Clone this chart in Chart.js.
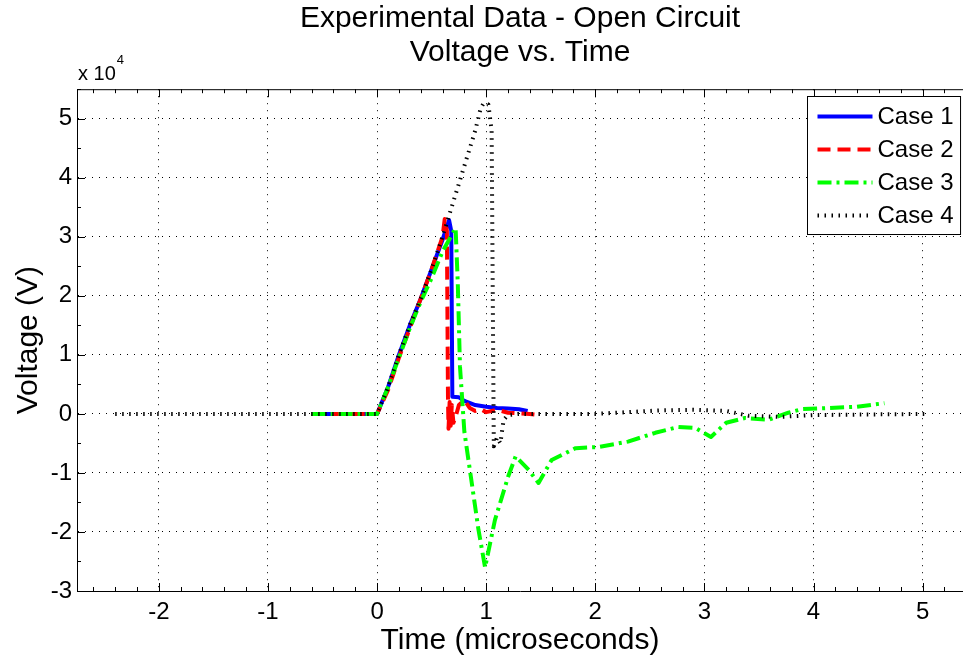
<!DOCTYPE html>
<html>
<head>
<meta charset="utf-8">
<script src="https://cdn.jsdelivr.net/npm/chart.js@4.4.1/dist/chart.umd.min.js"></script>
<style>
  html, body { margin: 0; padding: 0; background: #fff; }
  #wrap { width: 963px; height: 663px; position: relative; }
</style>
</head>
<body>
<div id="wrap"><canvas id="chart"></canvas></div>
<script>
// data (time in microseconds, voltage in volts)
const titleLines = ["Experimental Data - Open Circuit", "Voltage vs. Time"];
const caseNames = ["Case 1", "Case 2", "Case 3", "Case 4"];
const timeTicks = [-2, -1, 0, 1, 2, 3, 4, 5];
const voltTicks = [-30000, -20000, -10000, 0, 10000, 20000, 30000, 40000, 50000];

const case1Time = [-0.6, 0, 0.1, 0.2, 0.3, 0.4, 0.5, 0.6, 0.66, 0.68, 0.69, 0.75, 0.8, 0.9, 1.0, 1.1, 1.2, 1.3, 1.38];
const case1Volt = [0, 0, 4500, 10000, 15000, 19500, 24500, 29500, 32800, 31000, 2900, 2800, 2200, 1500, 1200, 1000, 900, 800, 500];

const case2Time = [-0.6, 0, 0.1, 0.2, 0.3, 0.4, 0.5, 0.6, 0.62, 0.64, 0.65, 0.655, 0.665, 0.675, 0.685, 0.7, 0.72, 0.75, 0.8, 0.85, 0.9, 0.95, 1.0, 1.1, 1.2, 1.3, 1.4, 1.5];
const case2Volt = [0, 0, 4000, 9500, 14500, 19500, 24500, 30000, 33000, 31000, 2500, -2500, 2000, -2000, 1500, -1500, -500, 1500, 2300, 1000, 500, 800, 300, 700, 200, 100, 0, -200];

const case3Time = [-0.6, 0, 0.1, 0.2, 0.3, 0.4, 0.5, 0.6, 0.66, 0.72, 0.74, 0.76, 0.8, 0.86, 0.93, 0.99, 1.08, 1.2, 1.27, 1.39, 1.48, 1.6, 1.82, 2.03, 2.3, 2.55, 2.76, 2.92, 3.06, 3.2, 3.37, 3.59, 3.77, 3.89, 4.14, 4.39, 4.6, 4.65];
const case3Volt = [0, 0, 4500, 9500, 14500, 19000, 23000, 27500, 29500, 31500, 22000, 8000, -3000, -10700, -19700, -26000, -18000, -10700, -7200, -9500, -11700, -7800, -5800, -5600, -4700, -3200, -2200, -2400, -3900, -1500, -700, -1000, 200, 800, 1000, 1200, 1700, 1800];

const case4Time = [-2.4, 0, 0.1, 0.2, 0.3, 0.4, 0.5, 0.6, 0.7, 0.8, 0.9, 0.95, 0.98, 1.02, 1.05, 1.07, 1.1, 1.13, 1.16, 1.2, 1.3, 1.5, 2.0, 2.3, 2.6, 2.9, 3.2, 3.4, 3.7, 4.0, 4.5, 5.05];
const case4Volt = [0, 0, 4500, 10000, 15000, 19500, 24500, 30000, 36000, 42000, 48000, 51800, 52700, 52400, 48000, -5500, -4000, -5000, -1000, -200, 0, 0, 0, 300, 600, 700, 500, -300, -500, -200, -100, 0];

const FONT = '"Liberation Sans", Arial, Helvetica, sans-serif';

function toPoints(t, v) {
  return t.map((x, i) => ({ x: x, y: v[i] }));
}

// MATLAB-like extras: box top edge, inward ticks, "x 10^4", legend inside the axes
const matlabAxes = {
  id: "matlabAxes",
  afterDraw(chart) {
    const ctx = chart.ctx;
    const a = chart.chartArea;
    const xs = chart.scales.x;
    const ys = chart.scales.y;
    ctx.save();
    ctx.strokeStyle = "#000";
    ctx.lineWidth = 1;

    // top edge of the box
    ctx.beginPath();
    ctx.moveTo(a.left, a.top + 0.5);
    ctx.lineTo(a.right, a.top + 0.5);
    ctx.stroke();

    // x ticks (major 1, minor 0.2), bottom and top
    ctx.beginPath();
    for (let k = Math.ceil(xs.min / 0.2); k * 0.2 <= xs.max; k++) {
      const len = (k % 5 === 0) ? 8 : 4;
      const px = Math.round(xs.getPixelForValue(k * 0.2)) + 0.5;
      ctx.moveTo(px, a.bottom);
      ctx.lineTo(px, a.bottom - len);
      ctx.moveTo(px, a.top);
      ctx.lineTo(px, a.top + len);
    }
    // y ticks (major 10000, minor 5000), left side
    for (let k = Math.ceil(ys.min / 5000); k * 5000 <= ys.max; k++) {
      const len = (k % 2 === 0) ? 8 : 4;
      const py = Math.round(ys.getPixelForValue(k * 5000)) + 0.5;
      ctx.moveTo(a.left, py);
      ctx.lineTo(a.left + len, py);
    }
    ctx.stroke();

    // exponent label
    ctx.fillStyle = "#000";
    ctx.textBaseline = "alphabetic";
    ctx.textAlign = "left";
    ctx.font = "20px " + FONT;
    ctx.fillText("x 10", a.left + 1, a.top - 9);
    const w = ctx.measureText("x 10").width;
    ctx.font = "13px " + FONT;
    ctx.fillText("4", a.left + 2 + w, a.top - 25);

    // legend
    ctx.font = "24px " + FONT;
    const ds = chart.data.datasets;
    let tw = 0;
    ds.forEach(d => { tw = Math.max(tw, ctx.measureText(d.label).width); });
    const boxW = 10 + 55 + 5 + tw + 7;
    const rowH = 33;
    const boxH = 6 + rowH * ds.length;
    const bx = Math.round(a.right - 3 - boxW) + 0.5;
    const by = Math.round(a.top + 7) + 0.5;
    ctx.fillStyle = "#fff";
    ctx.fillRect(bx, by, boxW, boxH);
    ctx.strokeStyle = "#000";
    ctx.lineWidth = 1;
    ctx.setLineDash([]);
    ctx.strokeRect(bx, by, boxW, boxH);
    ds.forEach((d, i) => {
      const cy = by + 20 + i * rowH;
      ctx.save();
      ctx.strokeStyle = d.borderColor;
      ctx.lineWidth = d.borderWidth;
      ctx.setLineDash(d.borderDash || []);
      ctx.lineCap = "butt";
      ctx.beginPath();
      ctx.moveTo(bx + 10, cy);
      ctx.lineTo(bx + 65, cy);
      ctx.stroke();
      ctx.restore();
      ctx.fillStyle = "#000";
      ctx.textBaseline = "middle";
      ctx.fillText(d.label, bx + 70, cy + 1);
    });
    ctx.restore();
  }
};

const ctx = document.getElementById("chart").getContext("2d");

new Chart(ctx, {
  type: "line",
  data: {
    datasets: [
      { label: caseNames[0], data: toPoints(case1Time, case1Volt), borderColor: "#0000ff", borderWidth: 4, order: 4 },
      { label: caseNames[1], data: toPoints(case2Time, case2Volt), borderColor: "#ff0000", borderWidth: 4, borderDash: [13, 7], order: 3 },
      { label: caseNames[2], data: toPoints(case3Time, case3Volt), borderColor: "#00ff00", borderWidth: 4, borderDash: [14, 5, 3, 5], order: 2 },
      { label: caseNames[3], data: toPoints(case4Time, case4Volt), borderColor: "#000000", borderWidth: 4, borderDash: [1.5, 5.5], order: 1 }
    ]
  },
  options: {
    responsive: true,
    maintainAspectRatio: false,
    animation: false,
    layout: { padding: 0 },
    elements: {
      point: { radius: 0 },
      line: { tension: 0, borderCapStyle: "butt", borderJoinStyle: "round", fill: false }
    },
    scales: {
      x: {
        type: "linear",
        min: -2.75,
        max: 5.37,
        afterBuildTicks(s) { s.ticks = timeTicks.map(v => ({ value: v })); },
        ticks: {
          color: "#000",
          font: { family: FONT, size: 24 },
          padding: 7,
          maxRotation: 0
        },
        grid: { color: "#000", lineWidth: 1, drawTicks: false },
        border: { display: true, color: "#000", width: 1, dash: [1, 6] },
        title: {
          display: true,
          text: "Time (microseconds)",
          color: "#000",
          font: { family: FONT, size: 30 },
          padding: { top: 0, bottom: 4 }
        },
        afterFit(s) { s.height = 72; }
      },
      y: {
        type: "linear",
        min: -30000,
        max: 55000,
        afterBuildTicks(s) { s.ticks = voltTicks.map(v => ({ value: v })); },
        ticks: {
          color: "#000",
          font: { family: FONT, size: 24 },
          padding: 5,
          callback: v => v / 10000
        },
        grid: { color: "#000", lineWidth: 1, drawTicks: false },
        border: { display: true, color: "#000", width: 1, dash: [1, 6] },
        title: {
          display: true,
          text: "Voltage (V)",
          color: "#000",
          font: { family: FONT, size: 30 },
          padding: { top: 11, bottom: 0 }
        },
        afterFit(s) { s.width = 77; }
      }
    },
    plugins: {
      legend: { display: false },
      tooltip: { enabled: false },
      title: {
        display: true,
        text: titleLines,
        fullSize: false,
        color: "#000",
        font: { family: FONT, size: 30, weight: "normal", lineHeight: 1.12 },
        padding: { top: 2, bottom: 20 }
      }
    }
  },
  plugins: [matlabAxes]
});
</script>
</body>
</html>
